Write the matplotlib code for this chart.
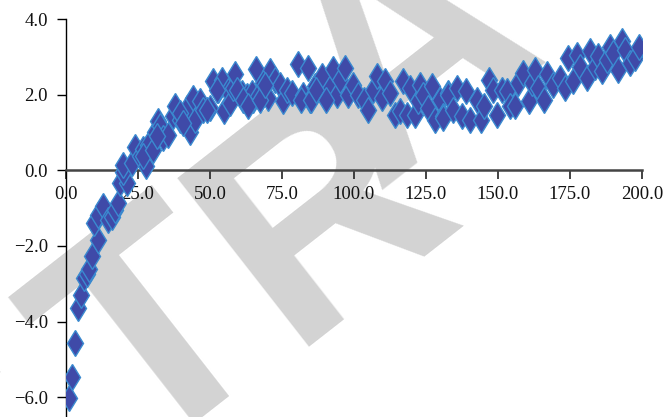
import matplotlib
matplotlib.use("Agg")
import matplotlib.pyplot as plt

# ---- data ----
x_vals = [
    1.0, 2.2, 3.1, 4.0, 5.1, 6.4, 7.2, 8.0, 8.9, 11.0, 9.8, 11.2, 13.0, 14.7, 15.9, 17.0, 18.2, 18.8, 21.1, 19.9,
    19.9, 22.8, 24.0, 25.7, 26.8, 27.8, 28.6, 30.9, 32.0, 32.6, 33.8, 35.5, 37.3, 37.8, 39.6, 41.9, 43.1, 44.0,
    44.8, 46.5, 47.7, 50.0, 51.2, 52.9, 54.1, 54.9, 56.4, 56.9, 58.1, 58.7, 61.0, 62.7, 65.0,
    26.8, 30.3, 31.5, 39.6, 40.7, 48.8, 52.3,
    66.0, 70.8, 64.5, 66.8, 68.5, 70.2, 72.6, 74.3, 75.5, 76.6, 78.4, 80.7, 84.1, 82.4, 84.7, 86.5, 88.8, 90.5,
    91.7, 92.8, 94.0, 95.1, 96.9, 98.0, 99.8, 101.5, 103.3, 105.0, 106.7, 107.9, 109.6, 110.8, 112.5, 114.2,
    116.0, 117.1, 118.3, 119.4, 121.2, 122.3, 122.9, 124.1, 125.8, 127.0, 128.1, 129.9, 131.0, 132.7,
    59.4, 61.6, 63.1, 67.5, 69.0, 81.5, 85.2, 86.7, 90.3,
    130.8, 132.7, 134.5, 135.7, 137.4, 138.9, 140.3, 142.6, 144.0, 145.1, 147.0, 148.4, 149.8, 151.3, 153.0,
    154.2, 155.9, 157.1, 158.8, 160.9, 161.7, 162.8, 164.0, 166.0, 166.9, 169.2, 171.5, 173.3, 174.4, 175.9,
    177.3, 178.5, 180.8, 181.9, 183.7, 184.8, 186.0, 187.7, 188.9, 190.0, 191.8, 193.0, 194.1, 195.8, 197.6,
    199.1,
]
y_vals = [
    -6.02, -5.46, -4.56, -3.65, -3.29, -2.85, -2.75, -2.60, -2.26, -1.85, -1.39, -1.17, -0.95, -1.31, -1.22, -1.04, -0.86, -0.33, -0.33, -0.03,
    0.15, 0.20, 0.62, 0.37, 0.57, 0.12, 0.68, 1.03, 1.30, 1.17, 0.86, 0.95, 1.43, 1.70, 1.34, 1.65, 1.03, 1.92,
    1.34, 1.83, 1.61, 1.65, 2.36, 2.14, 2.40, 1.56, 2.09, 1.79, 2.18, 2.54, 2.05, 1.96, 1.87,
    0.37, 0.55, 0.90, 1.52, 1.26, 1.61, 2.14,
    2.69, 2.62, 2.05, 1.96, 2.31, 1.92, 2.40, 2.27, 1.83, 2.14, 2.05, 2.83, 2.71, 2.00, 1.87, 2.23, 2.49, 1.92,
    2.18, 2.69, 2.00, 2.40, 2.71, 2.00, 2.27, 2.00, 1.87, 1.61, 2.14, 2.49, 1.92, 2.36, 2.05, 1.48,
    1.56, 2.36, 1.48, 2.18, 1.48, 1.83, 2.27, 2.00, 1.65, 2.23, 1.34, 1.87, 1.43, 2.05,
    2.14, 1.87, 1.70, 1.87, 2.27, 1.87, 1.87, 2.14, 1.87,
    1.39, 2.00, 1.61, 2.18, 1.43, 2.09, 1.34, 1.87, 1.34, 1.70, 2.40, 2.14, 1.48, 2.14, 2.09,
    1.70, 1.70, 2.31, 2.58, 1.83, 2.31, 2.67, 2.18, 1.87, 2.54, 2.27, 2.45, 2.18, 2.98, 2.36,
    3.06, 2.75, 2.45, 3.15, 2.75, 3.02, 2.62, 2.93, 3.28, 3.11, 2.67, 3.42, 3.20, 2.85, 2.98,
    3.27,
]
x_ticks = [0, 25, 50, 75, 100, 125, 150, 175, 200]
x_labels = ["0.0", "25.0", "50.0", "75.0", "100.0", "125.0", "150.0", "175.0", "200.0"]
y_ticks = [4, 2, 0, -2, -4, -6]
y_labels = ["4.0", "2.0", "0.0", "\u22122.0", "\u22124.0", "\u22126.0"]
wm_letters = ["S", "T", "R", "A"]

W, H = 664, 417
fig = plt.figure(figsize=(W / 100, H / 100), dpi=100)
fig.patch.set_facecolor("white")

# watermark letters behind everything (anchor pixel positions from top-left)
wm_anchor = [(-50, 612), (136, 466), (288, 347), (375, 190)]
wm_kw = dict(fontsize=223, fontfamily="Liberation Sans", fontweight="bold", color="#d3d3d3",
             rotation=38, rotation_mode="anchor", ha="left", va="baseline", zorder=-5)
for ch, (px, py) in zip(wm_letters, wm_anchor):
    fig.text(px / W, 1 - py / H, ch, **wm_kw)

ax = fig.add_axes([66 / W, 1 - 416 / H, (642 - 66) / W, (416 - 19.3) / H])
ax.patch.set_alpha(0)
ax.set_xlim(0, 200)
ax.set_ylim(-6.5, 4.0)

ax.plot(x_vals, y_vals, linestyle="none", marker="d", markersize=13,
        markerfacecolor="#3f4aa8", markeredgecolor="#3a8ad0", markeredgewidth=1.0, zorder=3)

for s in ["top", "right"]:
    ax.spines[s].set_visible(False)
ax.spines["bottom"].set_position(("data", 0))
ax.spines["left"].set_position(("data", 0))
ax.spines["bottom"].set_color("#444444")
ax.spines["bottom"].set_linewidth(1.8)
ax.spines["left"].set_color("black")
ax.spines["left"].set_linewidth(1.0)

ax.set_xticks(x_ticks)
ax.set_xticklabels(x_labels)
ax.set_yticks(y_ticks)
ax.set_yticklabels(y_labels)
ax.tick_params(axis="x", direction="out", length=6.5, width=1.2, color="#222222", pad=4.5,
               labelsize=13.5, labelcolor="#111111")
ax.tick_params(axis="y", direction="out", length=6.5, width=1.0, color="black", pad=6.5,
               labelsize=13.5, labelcolor="#111111")
for lab in ax.get_xticklabels() + ax.get_yticklabels():
    lab.set_fontfamily("Liberation Serif")

fig.savefig("out.png", dpi=100)
